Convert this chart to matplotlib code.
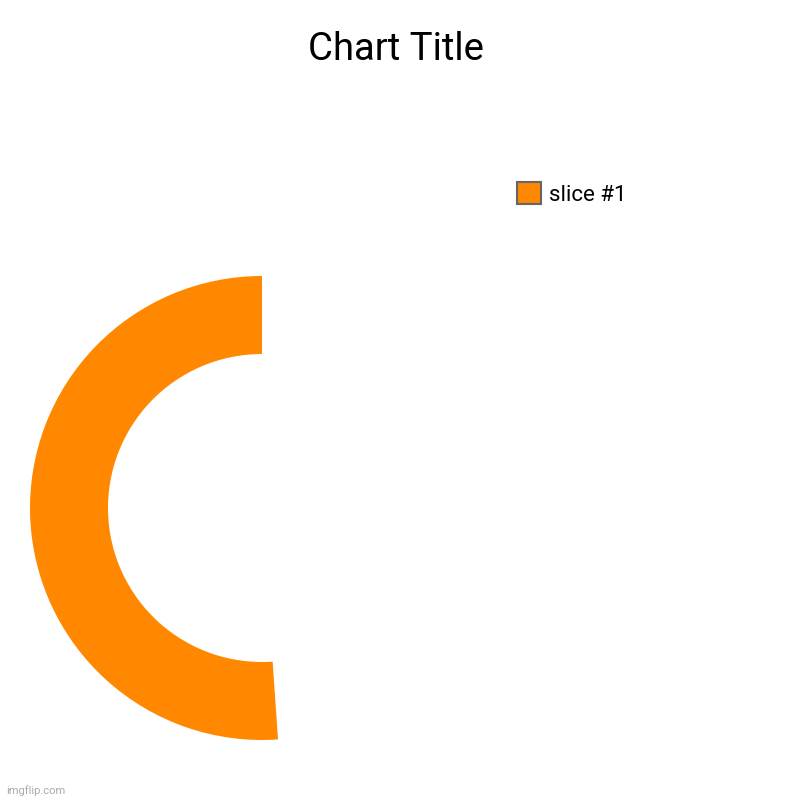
import matplotlib.pyplot as plt
from matplotlib.patches import Patch

# data
labels = ['slice #1']
values = [51.1]
rest = [48.9]          # unfilled remainder of the ring
colors = ['#ff8800']

plt.rcParams['font.family'] = ['Roboto', 'DejaVu Sans']

fig = plt.figure(figsize=(8, 8), dpi=100)
fig.patch.set_facecolor('white')

# donut axes: centre (262, 508) px, radius 232 px
cx, cy, r = 262 / 800, 1 - 508 / 800, 232 / 800
ax = fig.add_axes([cx - r, cy - r, 2 * r, 2 * r])
ax.pie(values + rest, colors=colors + ['none'], startangle=90,
       counterclock=True, radius=1,
       wedgeprops=dict(width=1 - 154 / 232, linewidth=0))
ax.set_xlim(-1, 1)
ax.set_ylim(-1, 1)
ax.set_aspect('equal')
ax.axis('off')

fig.text(0.495, 1 - 49 / 800, 'Chart Title', ha='center', va='center',
         fontsize=27.5, color='black')

handles = [Patch(facecolor=c, edgecolor='#666666', linewidth=1.5) for c in colors]
fig.legend(handles, labels, loc='center left',
           bbox_to_anchor=(517 / 800, 1 - 194 / 800), frameon=False,
           borderpad=0, borderaxespad=0,
           fontsize=16, handlelength=1.1, handleheight=1.1, handletextpad=0.35)

fig.text(6 / 800, 1 - 791 / 800, 'imgflip.com', ha='left', va='center',
         fontsize=8, color='#aaaaaa')

fig.savefig('out.png', dpi=100, facecolor='white')
